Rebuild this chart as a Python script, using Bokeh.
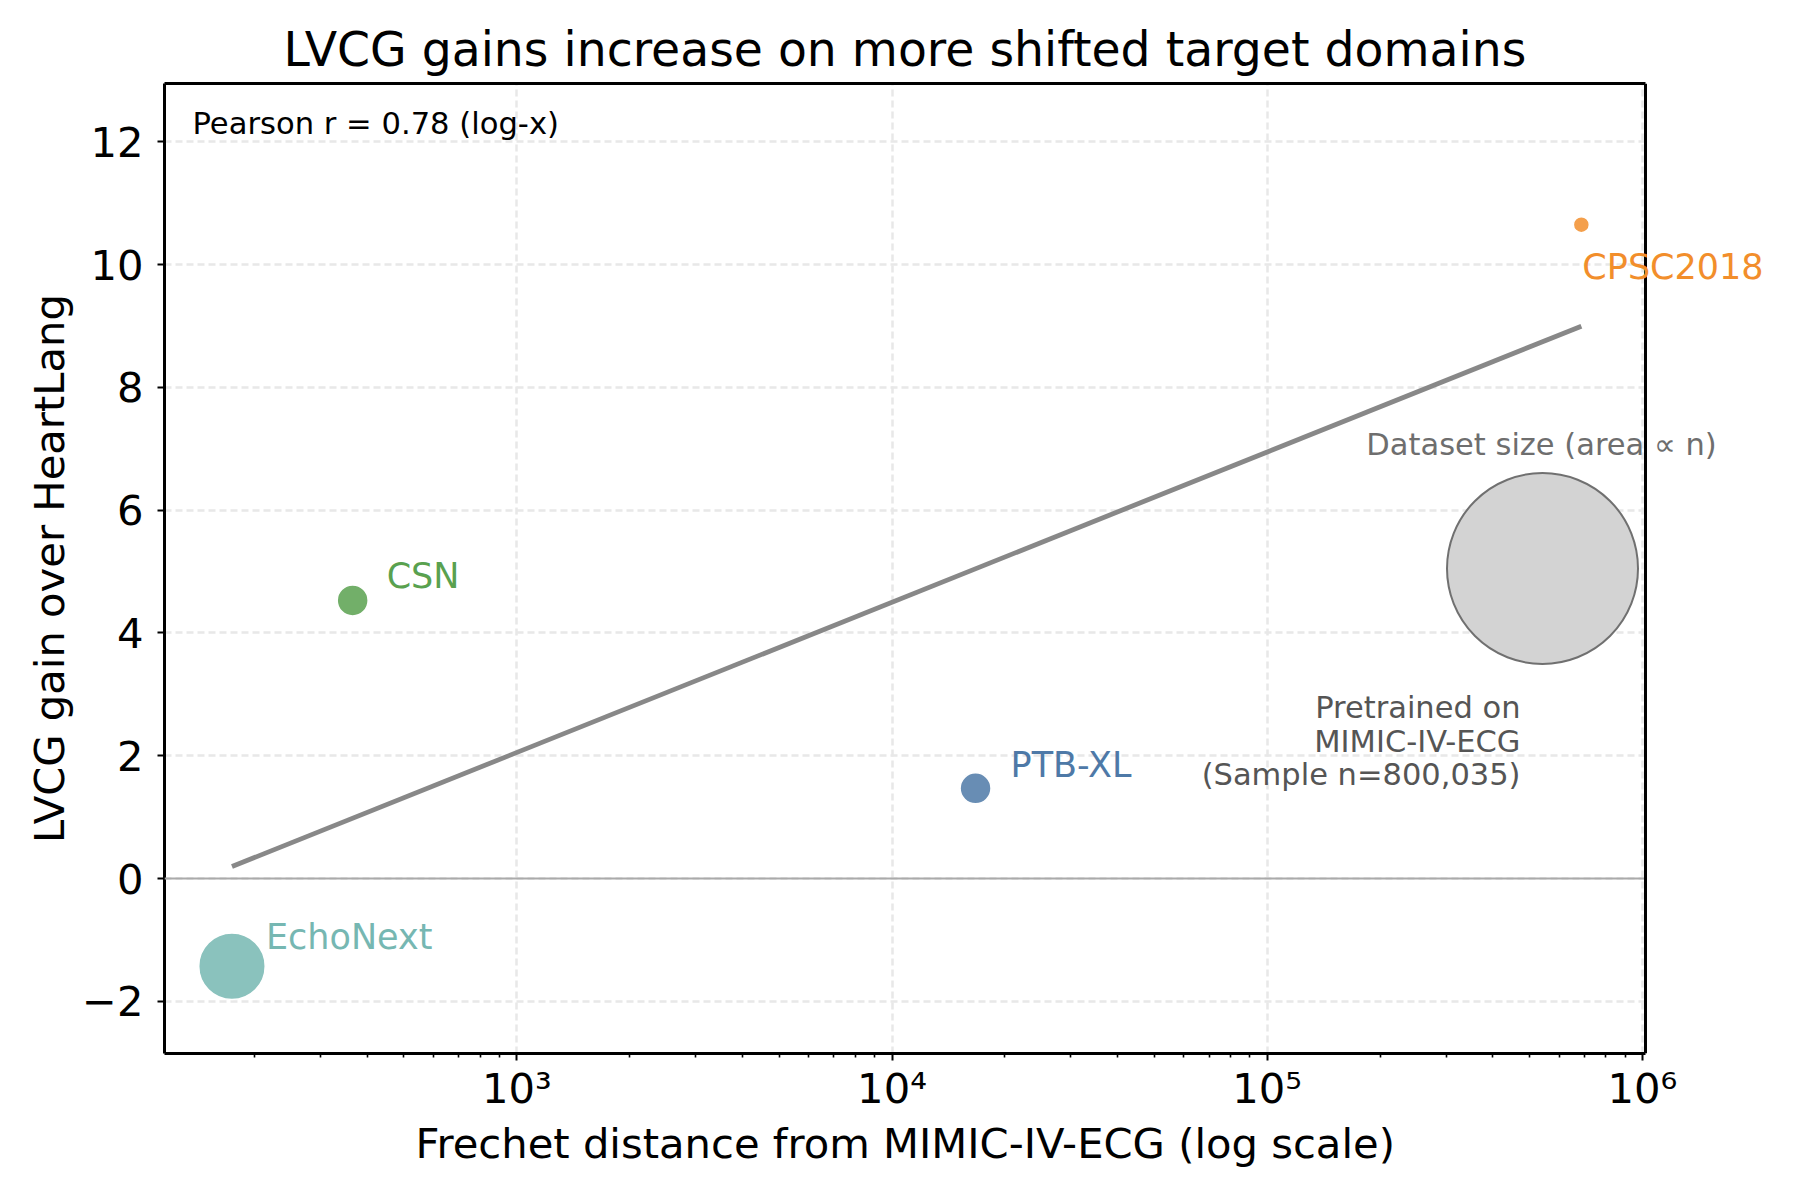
import numpy as np
from bokeh.plotting import figure
from bokeh.core.properties import value
from bokeh.models import (ColumnDataSource, FixedTicker, Label, LabelSet, Span, Range1d,
                          BoxAnnotation, LogAxis, Title)
from bokeh.embed import file_html
from bokeh.resources import INLINE

# ---------------- data ----------------
datasets = ["EchoNext", "CSN", "PTB-XL", "CPSC2018"]
frechet_distance = [174, 365, 16700, 688000]
lvcg_gain = [-1.43, 4.53, 1.47, 10.65]
dataset_n = [97000, 21000, 21000, 5600]
pretrain_n = 800035
pearson_text = "Pearson r = 0.78 (log-x)"

x_tick_values = [1e3, 1e4, 1e5, 1e6]
x_tick_labels = ["10³", "10⁴", "10⁵", "10⁶"]
y_tick_values = [-2, 0, 2, 4, 6, 8, 10, 12]
y_tick_labels = ["−2", "0", "2", "4", "6", "8", "10", "12"]
x_limits = (115, 1.02e6)
y_limits = (-2.85, 12.95)

# ---------------- styles ----------------
FONT = "DejaVu Sans"
colors = {"EchoNext": "#76b7b2", "CSN": "#59a14f", "PTB-XL": "#4e79a7", "CPSC2018": "#f28e2b"}
label_offsets = {"EchoNext": (34, 17), "CSN": (34, 12), "PTB-XL": (35, 11), "CPSC2018": (1, -54)}
REF_DIAM = 191.0  # px diameter of the pretraining-size key circle
SPINE_W = 3

W, H = 1800, 1200
FL, FR, FT, FB = 164, 1645, 83, 1053   # visible axes box (pixels)

lx0, lx1 = np.log10(x_limits[0]), np.log10(x_limits[1])
# the drawing frame runs to the right canvas edge so that labels may overflow the axes box
x_frame_end = 10 ** (lx0 + (W - FL) / (FR - FL) * (lx1 - lx0))


def px_to_x(px):
    return 10 ** (lx0 + (px - FL) / (FR - FL) * (lx1 - lx0))


def py_to_y(py):
    return y_limits[0] + (FB - py) / (FB - FT) * (y_limits[1] - y_limits[0])


p = figure(width=W, height=H, x_axis_type="log",
           x_range=Range1d(x_limits[0], x_frame_end), y_range=Range1d(*y_limits),
           output_backend="svg", toolbar_location=None,
           min_border_left=FL, min_border_right=0,
           min_border_top=FT, min_border_bottom=H - FB,
           background_fill_color="white", border_fill_color="white")
p.outline_line_color = None

p.title.text = "LVCG gains increase on more shifted target domains"
p.title.text_font = FONT
p.title.text_font_size = "47.3px"
p.title.text_font_style = "normal"
p.title.text_color = "black"
p.title.align = "left"
p.title.offset = 119
p.title.standoff = 13

# bottom axis (the figure's own)
xa = p.below[0]
xa.ticker = FixedTicker(
    ticks=x_tick_values,
    minor_ticks=[m * 10 ** e for e in range(2, 6) for m in range(2, 10)
                 if x_limits[0] <= m * 10 ** e <= x_limits[1]])
xa.bounds = x_limits
xa.major_label_overrides = {int(v): t for v, t in zip(x_tick_values, x_tick_labels)}

ya = p.left[0]
ya.ticker = FixedTicker(ticks=y_tick_values, minor_ticks=[])
ya.major_label_overrides = {v: t for v, t in zip(y_tick_values, y_tick_labels)}
ya.axis_label = "LVCG gain over HeartLang"

for ax in (xa, ya):
    ax.axis_line_color = "black"
    ax.axis_line_width = SPINE_W
    ax.major_tick_out = 7
    ax.major_tick_in = 0
    ax.major_tick_line_width = 2
    ax.major_tick_line_color = "black"
    ax.major_label_text_font = FONT
    ax.major_label_text_font_size = "41.7px"
    ax.major_label_text_color = "black"
    ax.axis_label_text_font = FONT
    ax.axis_label_text_font_size = "41.7px"
    ax.axis_label_text_font_style = "normal"
    ax.axis_label_text_color = "black"
xa.minor_tick_out = 4
xa.minor_tick_in = 0
xa.minor_tick_line_width = 1.6
xa.minor_tick_line_color = "black"
ya.minor_tick_line_color = None
xa.major_label_standoff = 3
ya.major_label_standoff = 14
ya.axis_label_standoff = 5

# top spine as a bare axis (no ticks, no labels)
top_axis = LogAxis(ticker=FixedTicker(ticks=[], minor_ticks=[]), bounds=x_limits,
                   axis_line_width=SPINE_W, axis_line_color="black",
                   major_tick_out=0, minor_tick_out=0, major_label_standoff=0)
p.add_layout(top_axis, "above")

# x-axis title centred on the visible axes box
p.add_layout(Title(text="Frechet distance from MIMIC-IV-ECG (log scale)", align="left",
                   offset=251, standoff=3, text_font=FONT, text_font_size="41.7px",
                   text_font_style="normal", text_color="black"), "below")

for g in (p.xgrid[0], p.ygrid[0]):
    g.grid_line_color = "#e8e8e8"
    g.grid_line_width = 2.5
    g.grid_line_dash = "7 4"

# zero reference line
p.add_layout(Span(location=0, dimension="width", line_color="#aaaaaa", line_width=2))

# regression fit in log-x
lx = np.log10(np.array(frechet_distance, dtype=float))
gy = np.array(lvcg_gain, dtype=float)
slope, intercept = np.polyfit(lx, gy, 1)
fit_x = np.array([min(frechet_distance), max(frechet_distance)], dtype=float)
fit_y = intercept + slope * np.log10(fit_x)
p.line(fit_x, fit_y, line_color="#888888", line_width=4.8)

# points
diam = [REF_DIAM * np.sqrt(n / pretrain_n) for n in dataset_n]
src = ColumnDataSource(dict(
    x=frechet_distance, y=lvcg_gain, name=datasets, size=diam,
    color=[colors[d] for d in datasets],
    dx=[label_offsets[d][0] for d in datasets],
    dy=[label_offsets[d][1] for d in datasets]))
p.scatter("x", "y", size="size", source=src, fill_color="color", fill_alpha=0.85,
          line_color="white", line_width=1.5)

# dataset size key
p.scatter([px_to_x(1542)], [py_to_y(568)], size=REF_DIAM, fill_color="#d3d3d3",
          line_color="#707070", line_width=2)

# white mask right of the axes box, then the right spine
p.add_layout(BoxAnnotation(left=x_limits[1], fill_color="white", fill_alpha=1.0,
                           line_color=None))
p.add_layout(Span(location=x_limits[1], dimension="height", line_color="black",
                  line_width=SPINE_W))

p.add_layout(LabelSet(x="x", y="y", text="name", source=src, x_offset="dx", y_offset="dy",
                      text_color="color", text_font=value(FONT), text_font_size="35px",
                      text_baseline="alphabetic", text_align="left"))

# pearson annotation
p.add_layout(Label(x=px_to_x(192), y=py_to_y(123), text=pearson_text,
                   text_font=FONT, text_font_size="30.6px", text_color="black",
                   text_baseline="middle", text_align="left"))

p.add_layout(Label(x=px_to_x(1541), y=py_to_y(444), text="Dataset size (area ∝ n)",
                   text_font=FONT, text_font_size="30.5px", text_color="#6e6e6e",
                   text_baseline="middle", text_align="center"))
for txt, mid in zip(["Pretrained on", "MIMIC-IV-ECG", f"(Sample n={pretrain_n:,})"],
                    [706.5, 741, 774]):
    p.add_layout(Label(x=px_to_x(1520), y=py_to_y(mid), text=txt,
                       text_font=FONT, text_font_size="30.5px", text_color="#555555",
                       text_baseline="middle", text_align="right"))

open("out.html", "w").write(file_html(p, INLINE))
